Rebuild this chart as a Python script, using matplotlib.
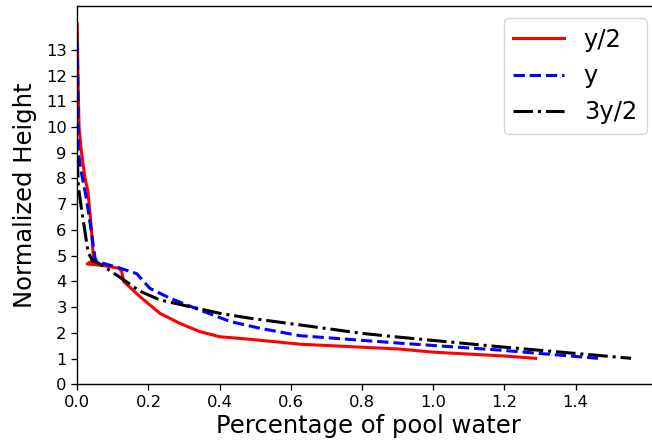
import matplotlib
matplotlib.use("Agg")
import matplotlib.pyplot as plt

# y/2 series
red_x = [0.0, 0.002, 0.005, 0.012, 0.022, 0.03, 0.04, 0.045, 0.05, 0.028, 0.07, 0.118, 0.125, 0.13,
         0.176, 0.232, 0.288, 0.344, 0.40, 0.485, 0.625, 0.906, 1.0, 1.2, 1.288]
red_y = [14.0, 12.0, 10.0, 9.0, 8.0, 7.5, 6.0, 5.0, 4.87, 4.68, 4.62, 4.51, 4.38, 4.0,
         3.41, 2.76, 2.37, 2.05, 1.85, 1.75, 1.56, 1.37, 1.25, 1.1, 1.01]
# y series
blue_x = [0.0, 0.002, 0.003, 0.012, 0.026, 0.04, 0.05, 0.055, 0.115, 0.167, 0.204, 0.26,
          0.344, 0.43, 0.513, 0.625, 0.906, 1.187, 1.463]
blue_y = [13.3, 11.0, 9.0, 8.2, 7.2, 5.9, 4.9, 4.77, 4.54, 4.3, 3.73, 3.35,
          2.89, 2.44, 2.18, 1.89, 1.60, 1.33, 1.01]
# 3y/2 series
black_x = [0.0, 0.003, 0.012, 0.022, 0.031, 0.045, 0.059, 0.12, 0.176, 0.232, 0.316,
           0.40, 0.485, 0.625, 0.8, 0.906, 1.187, 1.556]
black_y = [8.8, 7.7, 6.8, 5.9, 5.1, 4.77, 4.72, 4.16, 3.62, 3.28, 3.02,
           2.76, 2.57, 2.31, 1.98, 1.83, 1.46, 1.01]

labels = ["y/2", "y", "3y/2"]
y_ticks = list(range(0, 14))
x_ticks = [0.0, 0.2, 0.4, 0.6, 0.8, 1.0, 1.2, 1.4]

fig = plt.figure(figsize=(6.52, 4.46), dpi=100)
ax = fig.add_axes([0.1185, 0.1383, 0.892, 0.848])
ax.plot(red_x, red_y, color="red", linestyle="-", lw=2.2, label=labels[0])
ax.plot(blue_x, blue_y, color="blue", linestyle="--", lw=2.2, label=labels[1])
ax.plot(black_x, black_y, color="black", linestyle="-.", lw=2.2, label=labels[2])

ax.set_xlim(0, 1.634)
ax.set_ylim(0, 14.7)
ax.set_yticks(y_ticks)
ax.set_xticks(x_ticks)
ax.set_xticklabels([f"{v:.1f}" for v in x_ticks])
for s in ax.spines.values():
    s.set_linewidth(1.0)
ax.tick_params(labelsize=11.8, length=4.1, width=0.95)
ax.set_xlabel("Percentage of pool water", fontsize=17.5, labelpad=3)
ax.set_ylabel("Normalized Height", fontsize=17.5, labelpad=6)
leg = ax.legend(loc="upper right", fontsize=17.5, handlelength=2.1)
fig.savefig("out.png", dpi=100)
